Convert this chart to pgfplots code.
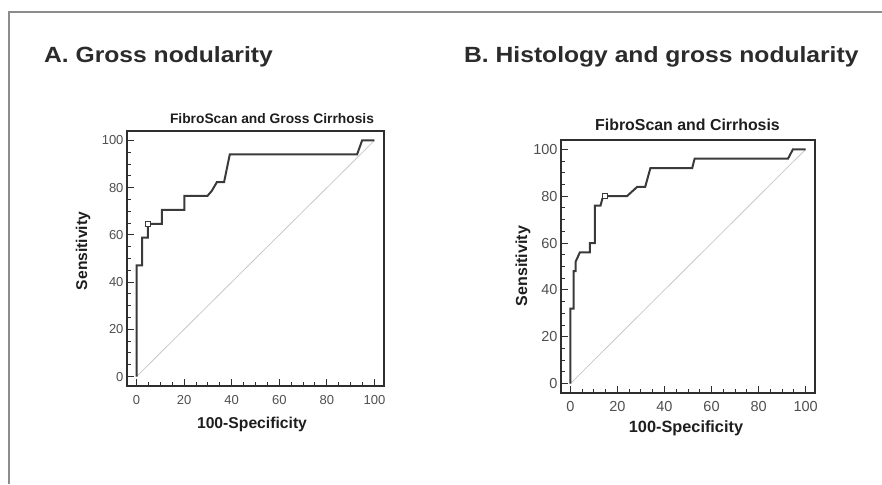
\documentclass[border=0pt]{standalone}
\usepackage{fontspec}
\setmainfont{Liberation Sans}
\usepackage{graphicx}
\usepackage{pgfplots}
\pgfplotsset{compat=1.18}
\definecolor{framecol}{HTML}{8C8C8C}
\definecolor{axcol}{HTML}{2E2E2E}
\definecolor{curvecol}{HTML}{3A3A3A}
\definecolor{diagcol}{HTML}{C8C8C8}
\definecolor{tickcol}{HTML}{4F4F4F}
\definecolor{headcol}{HTML}{2B2B2B}
\definecolor{labcol}{HTML}{1E1E1E}

\pgfplotsset{rocax/.style={
  scale only axis, anchor=north west,
  xmin=-4, xmax=104, ymin=-4, ymax=104,
  xtick={0,20,...,100}, ytick={0,20,...,100}, minor tick num=3,
  tick align=inside, tick pos=left,
  major tick length=7pt, minor tick length=4pt,
  tick style={axcol, line width=1pt},
  axis line style={axcol, line width=1.8pt},
  /pgf/number format/assume math mode=true,
  ticklabel style={text=tickcol},
}}

\begin{document}
\begin{tikzpicture}
\path[use as bounding box] (0,0) rectangle (882pt,-484pt);
\draw[framecol, line width=1.3pt] (9pt,-484pt) -- (9pt,-12pt) -- (882pt,-12pt);

\node[anchor=base west, inner sep=0, text=headcol, font=\fontsize{22}{26}\selectfont\bfseries] at (44pt,-63pt) {\scalebox{1.12}[1]{A. Gross nodularity}};
\node[anchor=base west, inner sep=0, text=headcol, font=\fontsize{22}{26}\selectfont\bfseries] at (464pt,-63pt) {\scalebox{1.12}[1]{B. Histology and gross nodularity}};

% Panel A
\begin{axis}[rocax, at={(127pt,-131pt)}, width=257pt, height=255pt,
  ticklabel style={font=\fontsize{13}{13}\selectfont},
  xticklabel style={yshift=-6pt}]
\addplot[diagcol, line width=0.8pt] coordinates {(0,0) (100,100)};
\addplot[curvecol, line width=2pt] coordinates {
 (0,0) (0,47.1) (2.4,47.1) (2.4,58.8) (4.8,58.8) (4.8,64.7) (10.7,64.7)
 (10.7,70.6) (20.1,70.6) (20.1,76.5) (29.8,76.5) (31.6,78.6) (33.8,82.4)
 (36.8,82.4) (39.2,94.1) (92.7,94.1) (94.8,100) (100,100)};
\addplot[only marks, mark=square*, mark size=2.4pt,
  mark options={fill=white, draw=curvecol, line width=1pt}] coordinates {(4.8,64.7)};
\end{axis}
\node[anchor=base, inner sep=0, text=labcol, font=\fontsize{13.8}{16}\selectfont\bfseries] at (272pt,-123.3pt) {FibroScan and Gross Cirrhosis};
\node[anchor=base, inner sep=0, text=labcol, font=\fontsize{15.7}{18}\selectfont\bfseries] at (252pt,-428pt) {100-Specificity};
\node[anchor=base, rotate=90, inner sep=0, text=labcol, font=\fontsize{15.6}{18}\selectfont\bfseries] at (87pt,-251pt) {Sensitivity};

% Panel B
\begin{axis}[rocax, at={(561pt,-140pt)}, width=254pt, height=253pt,
  ticklabel style={font=\fontsize{14.5}{14.5}\selectfont},
  xticklabel style={yshift=-5pt}]
\addplot[diagcol, line width=0.8pt] coordinates {(0,0) (100,100)};
\addplot[curvecol, line width=2pt] coordinates {
 (0,0) (0,32) (1.4,32) (1.4,48) (2.2,48) (2.2,52) (4,56) (8.3,56) (8.3,60)
 (10.4,60) (10.4,76) (12.8,76) (13.6,79) (14.6,80) (24,80) (28.4,84)
 (31.8,84) (34,92) (51.8,92) (52.8,96) (92.5,96) (94.6,100) (100,100)};
\addplot[only marks, mark=square*, mark size=2.4pt,
  mark options={fill=white, draw=curvecol, line width=1pt}] coordinates {(14.6,80)};
\end{axis}
\node[anchor=base, inner sep=0, text=labcol, font=\fontsize{15.9}{18}\selectfont\bfseries] at (687.5pt,-130pt) {FibroScan and Cirrhosis};
\node[anchor=base, inner sep=0, text=labcol, font=\fontsize{16.3}{19}\selectfont\bfseries] at (686pt,-432pt) {100-Specificity};
\node[anchor=base, rotate=90, inner sep=0, text=labcol, font=\fontsize{16}{19}\selectfont\bfseries] at (527pt,-266pt) {Sensitivity};
\end{tikzpicture}
\end{document}
